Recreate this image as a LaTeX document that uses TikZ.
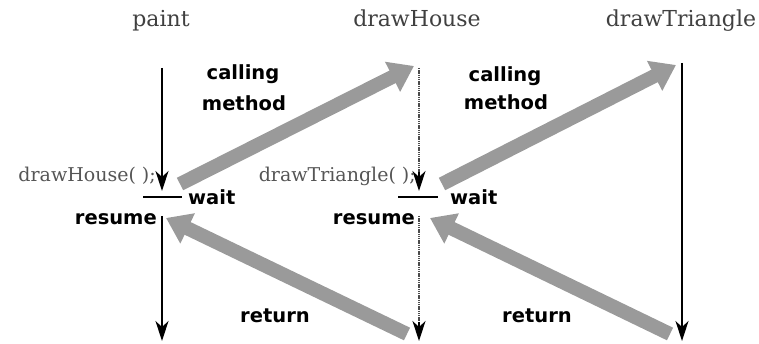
\documentclass[tikz,border=0pt]{standalone}
\usepackage{fontspec}
\setmainfont{DejaVu Serif}
\setsansfont{DejaVu Sans}
\usetikzlibrary{arrows.meta}
\definecolor{callgray}{HTML}{9A9A9A}
\definecolor{textgray}{HTML}{555555}
\tikzset{
  head/.style={font=\fontsize{22}{24}\selectfont, text=black!75, inner sep=0pt, anchor=base},
  lbl/.style={font=\sffamily\bfseries\fontsize{19.5}{21}\selectfont, inner sep=0pt},
  code/.style={font=\fontsize{19}{21}\selectfont, text=textgray, inner sep=0pt, anchor=base east},
  life/.style={line width=1.3pt, -{Stealth[length=20pt,width=13pt,inset=6pt]}},
  dotlife/.style={draw=black!70, line width=2.2pt, dash pattern=on 1.4pt off 0.8pt},
  bar/.style={line width=1.8pt},
  flow/.style={draw=callgray, line width=14pt, -{Triangle[length=24pt,width=32pt]}},
}
\begin{document}
\begin{tikzpicture}[x=1pt,y=-1pt]
\useasboundingbox (0,0) rectangle (759,344);
% headers
\node[head] (hpaint) at (161,27) {paint};
\node[head] (hhouse) at (417,27) {drawHouse};
\node[head] (htri) at (681,27) {drawTriangle};
% lifeline coordinates
\coordinate (p1) at (162,68);
\coordinate (p2) at (162,191);
\coordinate (p3) at (162,216);
\coordinate (p4) at (162,341);
\coordinate (h1) at (419,68);
\coordinate (h2) at (419,191);
\coordinate (h3) at (419,216);
\coordinate (h4) at (419,341);
\coordinate (t1) at (682,63);
\coordinate (t2) at (682,341);
\coordinate (pb1) at (143,197);
\coordinate (pb2) at (182,197);
\coordinate (hb1) at (398,197);
\coordinate (hb2) at (438,197);
% gray flow arrows (drawn first, below lifelines)
\coordinate (c1s) at (180,184);
\coordinate (c1e) at (414,66);
\coordinate (c2s) at (442,184);
\coordinate (c2e) at (676,65);
\coordinate (r1s) at (407,334);
\coordinate (r1e) at (166,218);
\coordinate (r2s) at (670,334);
\coordinate (r2e) at (430,218);
\draw[flow] (c1s) -- (c1e);
\draw[flow] (c2s) -- (c2e);
\draw[flow] (r1s) -- (r1e);
\draw[flow] (r2s) -- (r2e);
% paint lifeline
\draw[life] (p1) -- (p2);
\draw[bar] (pb1) -- (pb2);
\draw[life] (p3) -- (p4);
% drawHouse lifeline
\draw[dotlife] (h1) -- ([yshift=18pt]h2);
\draw[life] ([yshift=19pt]h2) -- (h2);
\draw[bar] (hb1) -- (hb2);
\draw[dotlife] (h3) -- ([yshift=18pt]h4);
\draw[life] ([yshift=19pt]h4) -- (h4);
% drawTriangle lifeline
\draw[life] (t1) -- (t2);
% labels
\node[lbl, anchor=base] (call1) at (243,80) {calling};
\node[lbl, anchor=base] (meth1) at (244,111) {method};
\node[lbl, anchor=base] (call2) at (505,82) {calling};
\node[lbl, anchor=base] (meth2) at (506,110) {method};
\node[lbl, anchor=base west] (wait1) at (188,205) {wait};
\node[lbl, anchor=base west] (wait2) at (450,205) {wait};
\node[lbl, anchor=base east] (res1) at (157,225) {resume};
\node[lbl, anchor=base east] (res2) at (415,225) {resume};
\node[lbl, anchor=base] (ret1) at (275,322) {return};
\node[lbl, anchor=base] (ret2) at (537,322) {return};
\node[code] (callh) at (156,182) {drawHouse( );};
\node[code] (callt) at (416,182) {drawTriangle( );};
\end{tikzpicture}
\end{document}
